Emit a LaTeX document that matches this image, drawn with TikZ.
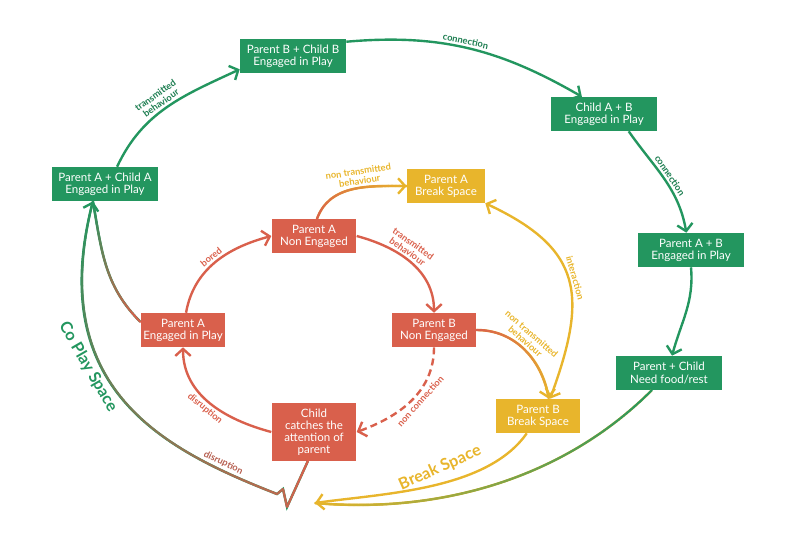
\documentclass[tikz,border=0pt]{standalone}
\usepackage{fontspec}
\setmainfont{Lato}
\usetikzlibrary{arrows.meta,decorations.markings}

% colour fade along a path: first colour at the start, second at the end
\tikzset{
  fade/.style 2 args={postaction={decorate, decoration={markings,
    mark=between positions 0 and 1 step 0.5pt with {
      \pgfmathtruncatemacro\fadepct{\pgfkeysvalueof{/pgf/decoration/mark info/distance from start}/\pgfdecoratedpathlength*100}
      \fill[#2!\fadepct!#1] (0,0) circle (0.9pt);}}}},
}

\begin{document}
\begin{tikzpicture}[x=0.025cm, y=-0.025cm,
  >={Straight Barb[length=5pt,width=11pt]},
  box/.style={inner sep=2pt, minimum height=0.85cm, minimum width=2.12cm, align=center,
    text=white, font=\fontsize{8.2}{8.6}\selectfont},
  link/.style={line width=1.7pt, ->},
  lbl/.style={font=\fontsize{6.6}{6.9}\selectfont\bfseries, align=center, inner sep=1.5pt},
  big/.style={font=\fontsize{11.5}{12}\selectfont\bfseries}]
% Define colors
\definecolor{cgreen}{RGB}{35,150,95}
\definecolor{cdkgreen}{RGB}{28,125,80}
\definecolor{cred}{RGB}{217,96,76}
\definecolor{cyellow}{RGB}{232,181,44}

\useasboundingbox (0,0) rectangle (800,547);

% Boxes
\node[box, fill=cgreen, minimum width=2.65cm] (pacA) at (105,184) {Parent A + Child A\\Engaged in Play};
\node[box, fill=cgreen, minimum width=2.65cm] (pbcb) at (293,56) {Parent B + Child B\\Engaged in Play};
\node[box, fill=cgreen, minimum width=2.65cm] (cab) at (604,114) {Child A + B\\Engaged in Play};
\node[box, fill=cgreen, minimum width=2.65cm] (papb) at (691,250) {Parent A + B\\Engaged in Play};
\node[box, fill=cgreen, minimum width=2.65cm] (pcnf) at (669,373) {Parent + Child\\Need food/rest};
\node[box, fill=cyellow, minimum width=1.95cm] (pabs) at (446,186) {Parent A\\Break Space};
\node[box, fill=cyellow] (pbbs) at (538,416) {Parent B\\Break Space};
\node[box, fill=cred] (pane) at (314,236) {Parent A\\Non Engaged};
\node[box, fill=cred] (pbne) at (434,330) {Parent B\\Non Engaged};
\node[box, fill=cred] (paeip) at (183,330) {Parent A\\Engaged in Play};
\node[box, fill=cred, minimum height=1.45cm] (ccap) at (314,432) {Child\\catches the\\attention of\\parent};

% Co play loop
\draw[link, cgreen] (pacA.55) to[out=65, in=205]
  node[lbl, cdkgreen, sloped, above, pos=0.48] {transmitted\\behaviour} (pbcb.194);
\draw[link, cgreen] (pbcb.15) to[out=5, in=150]
  node[lbl, cdkgreen, sloped, above, pos=0.48] {connection} (cab.142);
\draw[link, cgreen] (cab.-35) to[out=-55, in=100]
  node[lbl, cdkgreen, sloped, above] {connection} (papb.105);
\draw[link, cgreen] (papb.south) to[out=-85, in=75] (pcnf.80);

% Parent A loop
\draw[link, cred] (paeip.80) to[out=80, in=195]
  node[lbl, cred, sloped, above] {bored} (pane.west);
\draw[link, cred] (pane.east) to[out=-15, in=90]
  node[lbl, cred, sloped, above, pos=0.42] {transmitted\\behaviour} (pbne.north);
\draw[link, cred, dash pattern=on 5pt off 3pt] (pbne.south) to[out=-90, in=20]
  node[lbl, cred, sloped, below, pos=0.45] {non connection} (ccap.east);
\draw[link, cred] (ccap.west) to[out=165, in=-90]
  node[lbl, cred, sloped, below] {disruption} (paeip.south);

% Break space
\draw[link, cyellow, fade={cred}{cyellow}] (pane.80) to[out=70, in=180]
  node[lbl, cyellow, sloped, above, pos=0.58] {non transmitted\\behaviour} (pabs.west);
\draw[link, cyellow, fade={cred}{cyellow}] (pbne.east) to[out=0, in=100]
  node[lbl, cyellow, sloped, above, pos=0.45] {non transmitted\\behaviour} (pbbs.58);
\draw[link, cyellow, <->] (pabs.south east) to[out=-25, in=70, looseness=1.35]
  node[lbl, cyellow, sloped, above, pos=0.5] {interaction} (pbbs.55);

\coordinate (bsend) at (315,503);
\draw[line width=1.7pt, cyellow, fade={cgreen}{cyellow}] (pcnf.-135) to[out=-135, in=-5, looseness=0.9] (bsend);
\draw[link, cyellow] (pbbs.-123) to[out=-125, in=8, looseness=0.8] (bsend);

% Back to co play
\draw[line width=1.7pt, cgreen, fade={cred}{cgreen}] (paeip.169) to[out=135, in=-80] (pacA.-125);
\draw[link, cgreen, fade={cred}{cgreen}] (ccap.-102) -- (287,507) -- (283,489) -- (277,494)
  .. controls (165,450) and (45,390) .. (pacA.-125)
  node[lbl, cred!80!black!90, sloped, above, pos=0.17] {disruption};

\node[big, cgreen, rotate=-60] (coplay) at (88,367) {Co Play Space};
\node[big, cyellow, rotate=24] (brk) at (440,468) {Break Space};
\end{tikzpicture}
\end{document}
